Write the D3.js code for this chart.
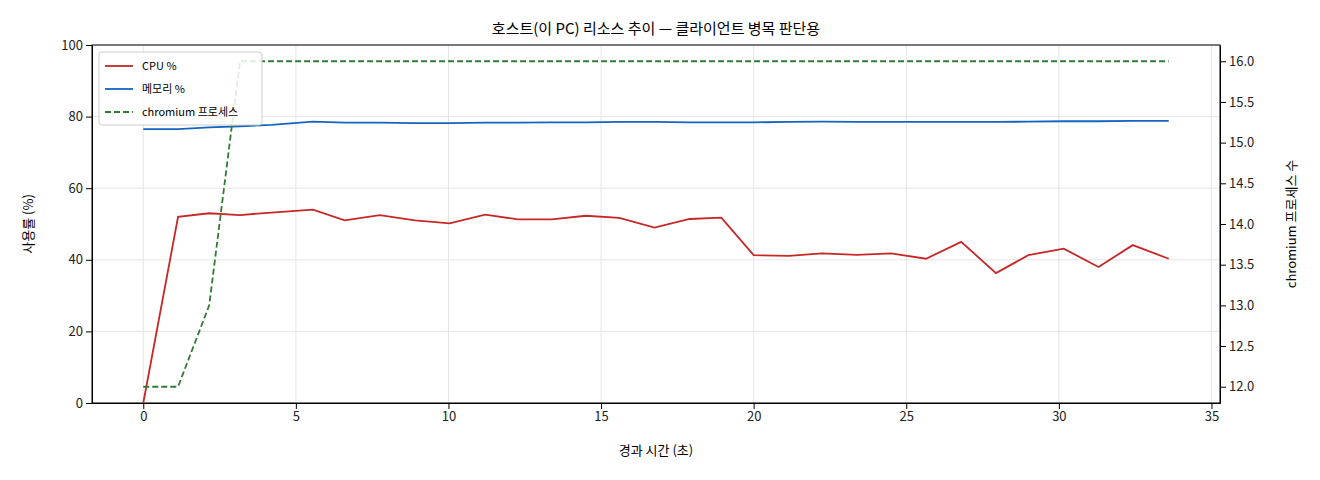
<!DOCTYPE html><html><head><meta charset="utf-8">
<script src="https://cdn.jsdelivr.net/npm/d3@7"></script>
<style>body{margin:0;background:#fff}text{font-family:"Noto Sans CJK KR","DejaVu Sans",sans-serif}</style></head><body>
<svg id="c" width="1320" height="480"></svg>
<script>
const times=[0,1.14,2.16,3.17,4.2,5.56,6.6,7.75,8.9,10.04,11.2,12.27,13.38,14.5,15.6,16.75,17.9,18.94,20.0,21.16,22.24,23.39,24.5,25.65,26.8,27.94,29.0,30.16,31.3,32.42,33.6];
const cpu=[0,52,53,52.5,53.2,54,51,52.5,51,50.2,52.6,51.3,51.3,52.3,51.7,49,51.4,51.8,41.3,41.1,41.8,41.4,41.8,40.3,45,36.3,41.3,43.1,38,44.1,40.3];
const mem=[76.5,76.5,77,77.3,77.7,78.6,78.3,78.3,78.2,78.2,78.3,78.3,78.4,78.4,78.5,78.5,78.4,78.4,78.4,78.5,78.6,78.5,78.5,78.5,78.5,78.5,78.6,78.7,78.7,78.8,78.8];
const procs=[12,12,13,16,16,16,16,16,16,16,16,16,16,16,16,16,16,16,16,16,16,16,16,16,16,16,16,16,16,16,16];
const xTicks=[0,5,10,15,20,25,30,35], yTicks=[0,20,40,60,80,100], y2Ticks=[12,12.5,13,13.5,14,14.5,15,15.5,16];
const L=92,R=1220,T=45,B=403;
const svg=d3.select("#c");
const x=d3.scaleLinear().domain([-1.68,35.28]).range([L,R]);
const y=d3.scaleLinear().domain([0,100]).range([B,T]);
const y2=d3.scaleLinear().domain([11.8,16.2]).range([B,T]);
const g=svg.append("g");
xTicks.forEach(t=>g.append("line").attr("x1",x(t)).attr("x2",x(t)).attr("y1",T).attr("y2",B).attr("stroke","#e6e6e6"));
yTicks.forEach(t=>g.append("line").attr("x1",L).attr("x2",R).attr("y1",y(t)).attr("y2",y(t)).attr("stroke","#e6e6e6"));
const fmt=d3.format(".1f");
svg.append("g").attr("transform",`translate(0,${B})`).call(d3.axisBottom(x).tickValues(xTicks).tickSizeOuter(0)).call(a=>a.selectAll("text").attr("font-size",13).attr("fill","#222"));
svg.append("g").attr("transform",`translate(${L},0)`).call(d3.axisLeft(y).tickValues(yTicks).tickSizeOuter(0)).call(a=>a.selectAll("text").attr("font-size",13).attr("fill","#222"));
svg.append("g").attr("transform",`translate(${R},0)`).call(d3.axisRight(y2).tickValues(y2Ticks).tickFormat(fmt).tickSizeOuter(0)).call(a=>a.selectAll("text").attr("font-size",13).attr("fill","#222"));
svg.append("rect").attr("x",L).attr("y",T).attr("width",R-L).attr("height",B-T).attr("fill","none").attr("stroke","#000");
const ln=(ys,sc)=>d3.line().x((d,i)=>x(times[i])).y(d=>sc(d))(ys);
svg.append("path").attr("d",ln(cpu,y)).attr("fill","none").attr("stroke","#c62828").attr("stroke-width",1.8);
svg.append("path").attr("d",ln(mem,y)).attr("fill","none").attr("stroke","#1565c0").attr("stroke-width",1.8);
svg.append("path").attr("d",ln(procs,y2)).attr("fill","none").attr("stroke","#2e7d32").attr("stroke-width",1.8).attr("stroke-dasharray","6,3");
svg.append("text").attr("x",(L+R)/2).attr("y",34).attr("text-anchor","middle").attr("font-size",15).text("호스트(이 PC) 리소스 추이 — 클라이언트 병목 판단용");
svg.append("text").attr("x",(L+R)/2).attr("y",455).attr("text-anchor","middle").attr("font-size",13).text("경과 시간 (초)");
svg.append("text").attr("transform",`translate(33,${(T+B)/2}) rotate(-90)`).attr("text-anchor","middle").attr("font-size",13).text("사용률 (%)");
svg.append("text").attr("transform",`translate(1296,${(T+B)/2}) rotate(-90)`).attr("text-anchor","middle").attr("font-size",13).text("chromium 프로세스 수");
const lg=svg.append("g").attr("transform","translate(99,52)");
lg.append("rect").attr("width",163).attr("height",73).attr("fill","#fff").attr("fill-opacity",0.85).attr("stroke","#ccc").attr("rx",3);
[["CPU %","#c62828",null],["메모리 %","#1565c0",null],["chromium 프로세스","#2e7d32","6,3"]].forEach((d,i)=>{
 const yy=14+i*23;
 lg.append("line").attr("x1",6).attr("x2",34).attr("y1",yy).attr("y2",yy).attr("stroke",d[1]).attr("stroke-width",1.8).attr("stroke-dasharray",d[2]);
 lg.append("text").attr("x",43).attr("y",yy+4).attr("font-size",11).text(d[0]);
});
</script></body></html>
